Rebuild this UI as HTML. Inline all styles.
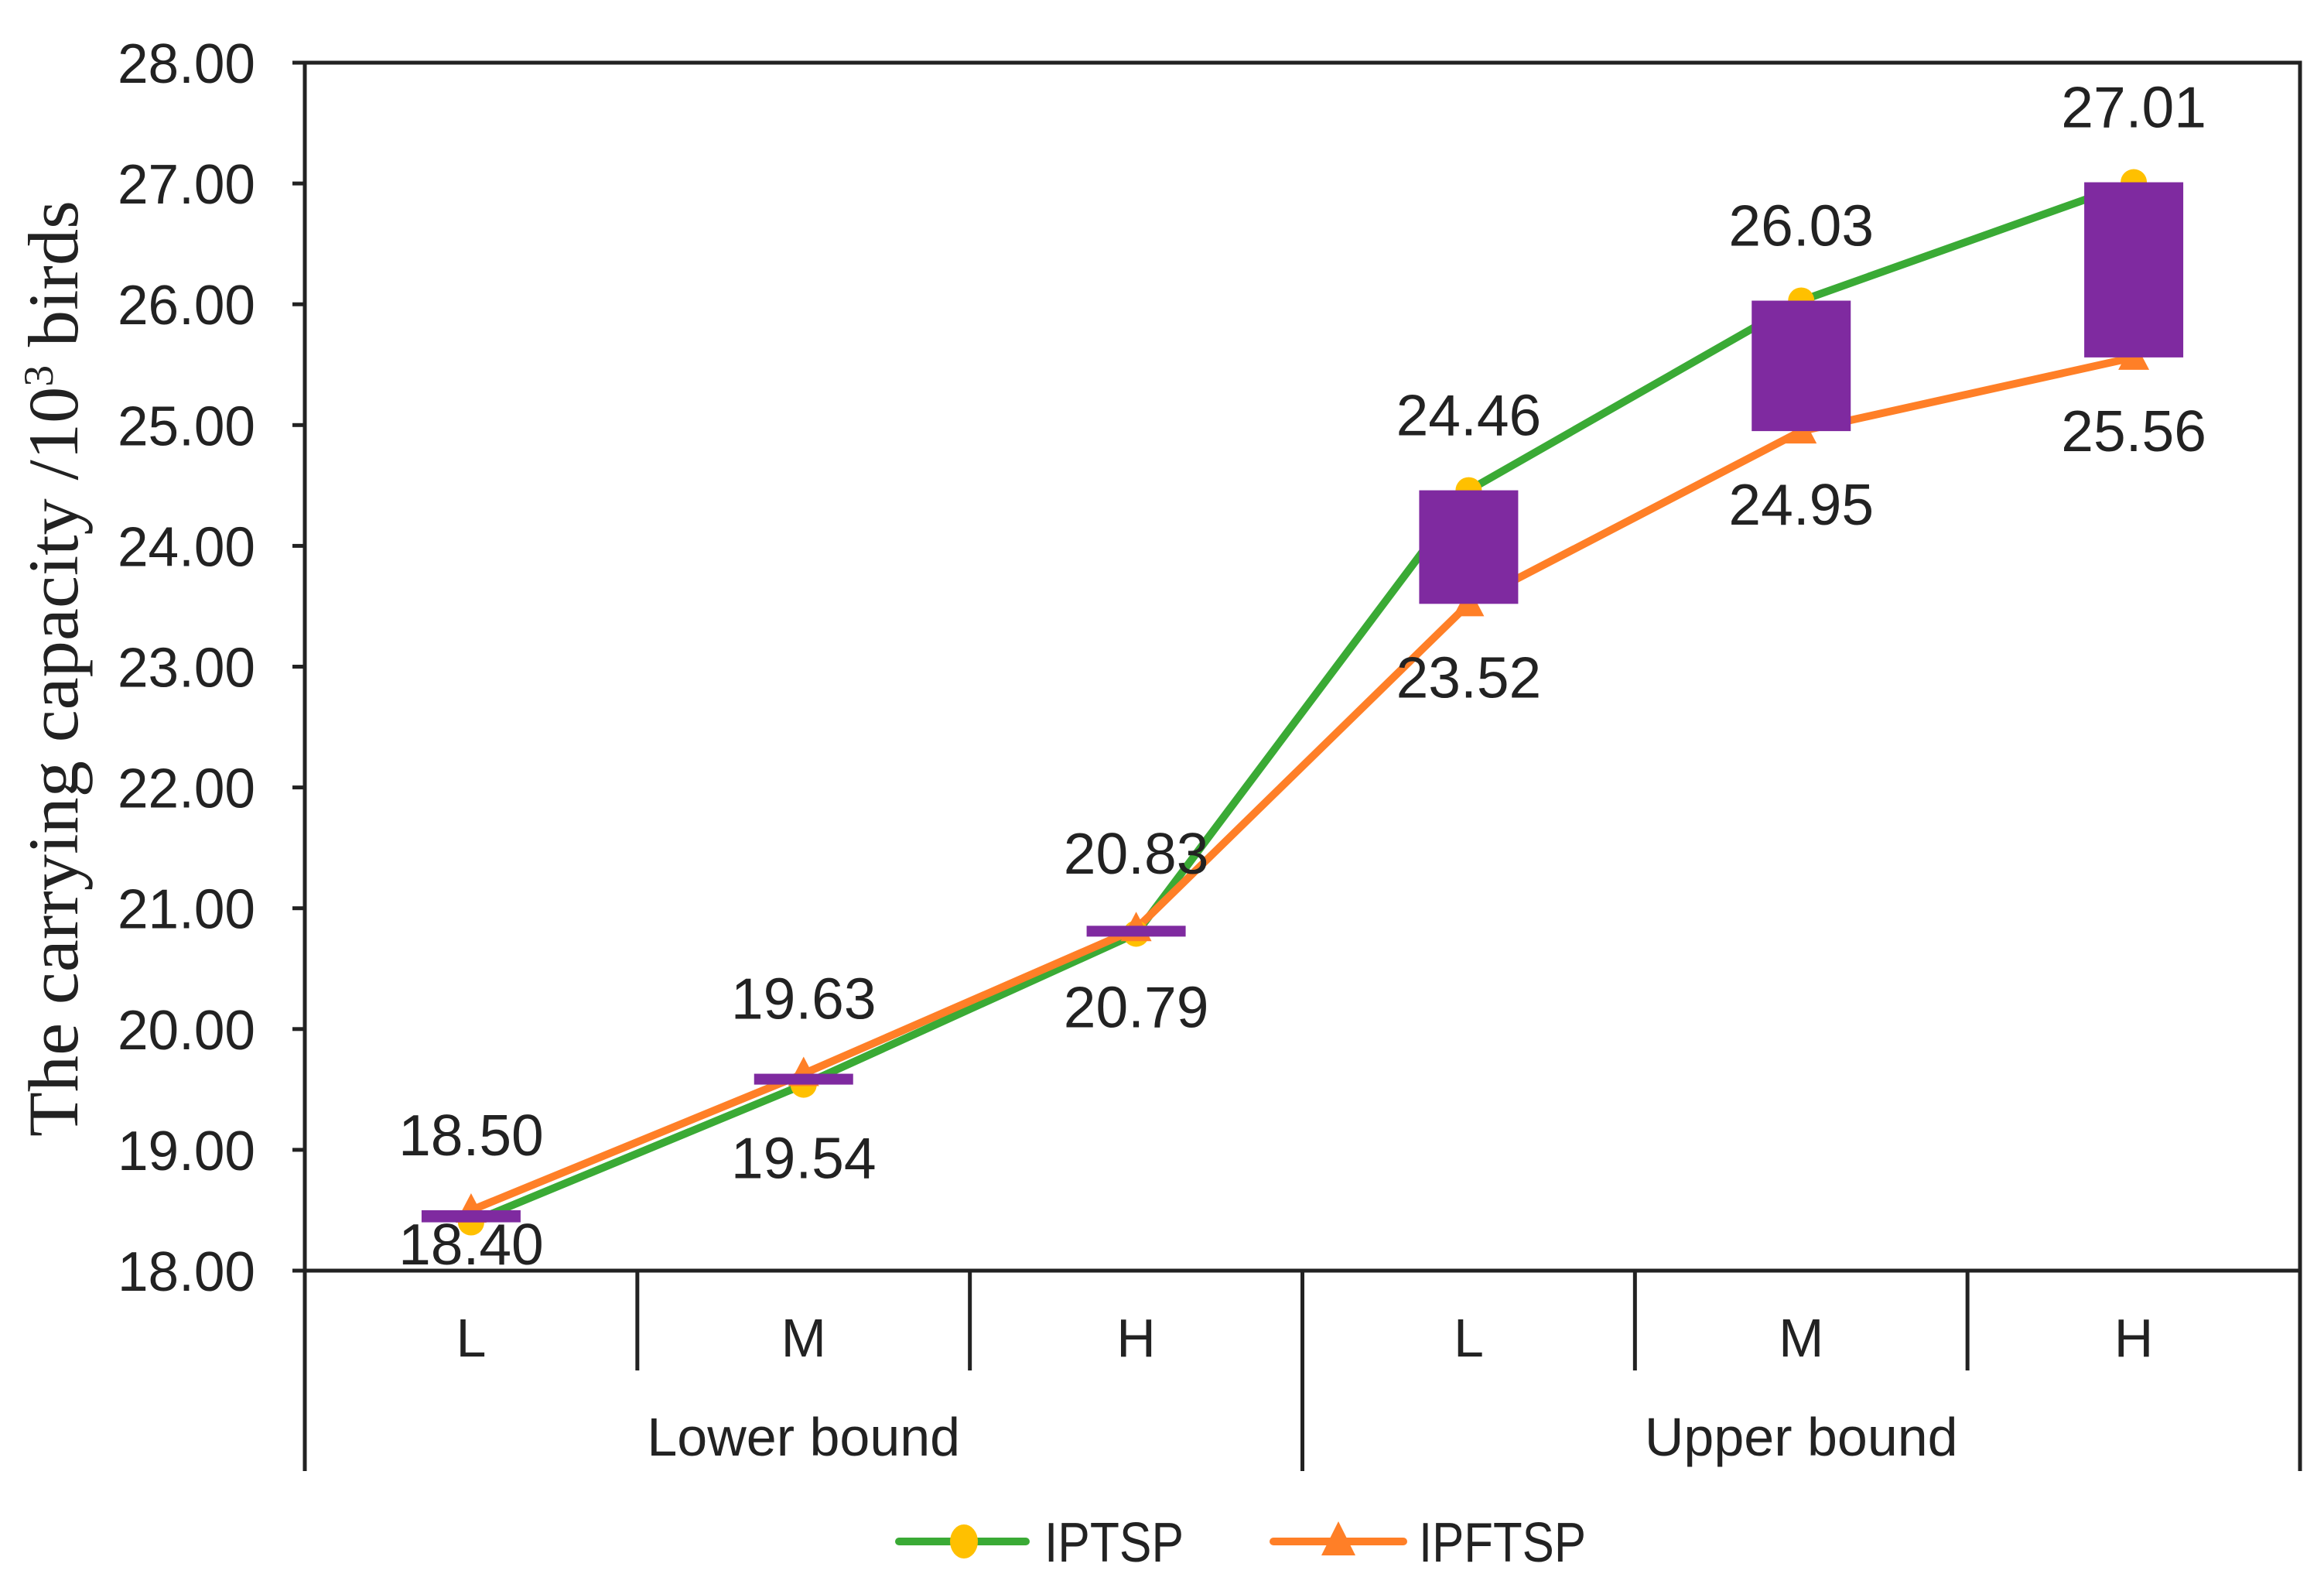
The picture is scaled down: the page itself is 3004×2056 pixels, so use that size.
<!DOCTYPE html>
<html><head><meta charset="utf-8"><style>
html,body{margin:0;padding:0;background:#fff;}
svg{display:block;}
text{font-family:"Liberation Sans",sans-serif;fill:#222;}
</style></head><body>
<svg id="chart" width="3004" height="2056" viewBox="0 0 3004 2056" xmlns="http://www.w3.org/2000/svg">
</svg>
<script>
const categories = ["L","M","H","L","M","H"];
const groups = ["Lower bound","Upper bound"];
const iptsp = [18.40,19.54,20.79,24.46,26.03,27.01];
const ipftsp = [18.50,19.63,20.83,23.52,24.95,25.56];
const yTicks = [18,19,20,21,22,23,24,25,26,27,28];
const yTickLabels = ["18.00","19.00","20.00","21.00","22.00","23.00","24.00","25.00","26.00","27.00","28.00"];

const NS="http://www.w3.org/2000/svg";
const svg=document.getElementById('chart');
const L=394,R=2973,T=81,B=1642,yMin=18,yMax=28;
const bw=(R-L)/categories.length;
function y(v){return B-(v-yMin)/(yMax-yMin)*(B-T);}
function x(i){return L+bw*(i+0.5);}
function mk(tag,attrs,parent){const e=document.createElementNS(NS,tag);for(const k in attrs)e.setAttribute(k,attrs[k]);(parent||svg).appendChild(e);return e;}

const frame=mk('rect',{x:L,y:T,width:R-L,height:B-T,fill:'none',stroke:'#222','stroke-width':5});



yTicks.forEach((v,i)=>{
  const t=mk('line',{x1:L-16,x2:L,y1:y(v),y2:y(v),stroke:'#222','stroke-width':5});
  
  
  const tx=mk('text',{x:L-64,y:y(v)+26,'text-anchor':'end','font-size':72,textLength:178,lengthAdjust:'spacingAndGlyphs'});
  tx.textContent=yTickLabels[i];
  
  
});

for(let i=0;i<=categories.length;i++){
  const major=(i%3===0);
  const sx=L+bw*i;
  const ln=mk('line',{x1:sx,x2:sx,y1:B,y2:major?1901:1771,stroke:'#222','stroke-width':5});
  
  
}
categories.forEach((c,i)=>{
  const t=mk('text',{x:x(i),y:1753,'text-anchor':'middle','font-size':70});
  t.textContent=c;
  
  
});
groups.forEach((g,i)=>{
  const t=mk('text',{x:L+bw*(3*i+1.5),y:1881,'text-anchor':'middle','font-size':70});
  t.textContent=g;
  
  
});

const yt=mk('text',{x:0,y:0,'text-anchor':'middle','font-size':92,transform:'translate(100,864) rotate(-90)',style:'font-family:"Liberation Serif",serif',textLength:1210,lengthAdjust:'spacingAndGlyphs'});
yt.innerHTML='The carrying capacity /10<tspan dy="-32" font-size="54">3</tspan><tspan dy="32"> birds</tspan>';



function line(vals,color,name){
  const p=mk('polyline',{points:vals.map((v,i)=>x(i)+','+y(v)).join(' '),fill:'none',stroke:color,'stroke-width':10,'stroke-linejoin':'round'});
  
  
}
line(iptsp,'#3aaa35','iptsp-line');
line(ipftsp,'#ff7f27','ipftsp-line');
iptsp.forEach((v,i)=>{
  const c=mk('circle',{cx:x(i),cy:y(v),r:17,fill:'#ffc000'});
  
  
});
ipftsp.forEach((v,i)=>{
  const cx=x(i),cy=y(v);
  const t=mk('polygon',{points:`${cx},${cy-22} ${cx+20},${cy+16} ${cx-20},${cy+16}`,fill:'#ff7f27'});
  
  
});
iptsp.forEach((v,i)=>{
  const hi=Math.max(v,ipftsp[i]),lo=Math.min(v,ipftsp[i]);
  let top=y(hi),h=y(lo)-y(hi);
  if(h<14){const m=(y(hi)+y(lo))/2;top=m-7;h=14;}
  const r=mk('rect',{x:x(i)-64,y:top,width:128,height:h,fill:'#7f2aa0'});
  
  
  const a=mk('text',{x:x(i),y:y(hi)-97+26,'text-anchor':'middle','font-size':75,fill:'#333'});
  a.textContent=hi.toFixed(2);
  
  
  const by=Math.min(y(lo)+95+26,B-8);
  const b=mk('text',{x:x(i),y:by,'text-anchor':'middle','font-size':75,fill:'#333'});
  b.textContent=lo.toFixed(2);
  
  
});

const lg=mk('g',{});


const l1=mk('line',{x1:1162,x2:1326,y1:1992,y2:1992,stroke:'#3aaa35','stroke-width':10,'stroke-linecap':'round'},lg);


const c1=mk('ellipse',{cx:1246,cy:1992,rx:18,ry:22,fill:'#ffc000'},lg);


const t1=mk('text',{x:1350,y:2018,'font-size':72,textLength:180,lengthAdjust:'spacingAndGlyphs'},lg);
t1.textContent='IPTSP';


const l2=mk('line',{x1:1646,x2:1814,y1:1992,y2:1992,stroke:'#ff7f27','stroke-width':10,'stroke-linecap':'round'},lg);


const p2=mk('polygon',{points:'1730,1966 1752,2010 1708,2010',fill:'#ff7f27'},lg);


const t2=mk('text',{x:1834,y:2018,'font-size':72,textLength:216,lengthAdjust:'spacingAndGlyphs'},lg);
t2.textContent='IPFTSP';


</script>
</body></html>
